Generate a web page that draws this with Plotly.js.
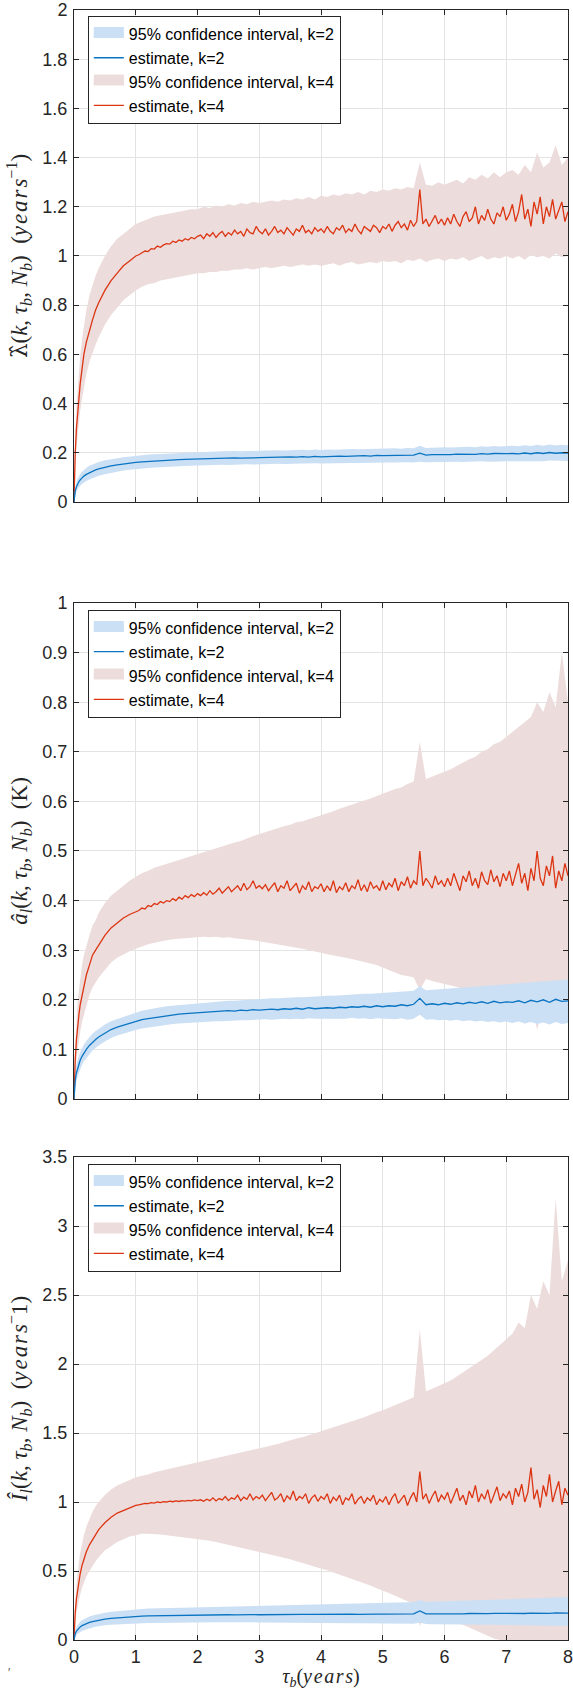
<!DOCTYPE html>
<html><head><meta charset="utf-8">
<script src="https://cdn.plot.ly/plotly-3.0.1.min.js"></script>
<style>html,body{margin:0;padding:0;background:#fff}#chart{width:573px;height:1690px}</style>
</head><body><div id="chart"></div>
<script>
// ---- sampling grid (years) ----
const tau = [0,0.01,0.02,0.04,0.06,0.08,0.1,0.13,0.16,0.2,0.25,0.3,0.35,0.4,0.5,0.6,0.7,0.8,0.9,1.0,
 1.1,1.2,1.3,1.4,1.5,1.6,1.7,1.8,1.9,2.0,
 2.1,2.2,2.3,2.4,2.5,2.6,2.7,2.8,2.9,3.0,
 3.1,3.2,3.3,3.4,3.5,3.6,3.7,3.8,3.9,4.0,
 4.1,4.2,4.3,4.4,4.5,4.6,4.7,4.8,4.9,5.0,
 5.1,5.2,5.3,5.4,5.5,5.6,5.7,5.8,5.9,6.0,
 6.1,6.2,6.3,6.4,6.5,6.6,6.7,6.8,6.9,7.0,
 7.1,7.2,7.3,7.4,7.5,7.6,7.7,7.8,7.9,8.0];
const tauFine = [0,0.01,0.02,0.04,0.06,0.08,0.1,0.13,0.16,0.2,0.25,0.3,0.35,0.4,0.5,0.6,0.7,0.8,0.9,1.0,
 1.05,1.1,1.15,1.2,1.25,1.3,1.35,1.4,1.45,1.5,1.55,1.6,1.65,1.7,1.75,1.8,1.85,1.9,1.95,2.0,
 2.05,2.1,2.15,2.2,2.25,2.3,2.35,2.4,2.45,2.5,2.55,2.6,2.65,2.7,2.75,2.8,2.85,2.9,2.95,3.0,
 3.05,3.1,3.15,3.2,3.25,3.3,3.35,3.4,3.45,3.5,3.55,3.6,3.65,3.7,3.75,3.8,3.85,3.9,3.95,4.0,
 4.05,4.1,4.15,4.2,4.25,4.3,4.35,4.4,4.45,4.5,4.55,4.6,4.65,4.7,4.75,4.8,4.85,4.9,4.95,5.0,
 5.05,5.1,5.15,5.2,5.25,5.3,5.35,5.4,5.45,5.5,5.55,5.6,5.65,5.7,5.75,5.8,5.85,5.9,5.95,6.0,
 6.05,6.1,6.15,6.2,6.25,6.3,6.35,6.4,6.45,6.5,6.55,6.6,6.65,6.7,6.75,6.8,6.85,6.9,6.95,7.0,
 7.05,7.1,7.15,7.2,7.25,7.3,7.35,7.4,7.45,7.5,7.55,7.6,7.65,7.7,7.75,7.8,7.85,7.9,7.95,8.0];

// ---- panel 1: lambda-hat ----
const lamEst2 = [0,0.03,0.045,0.062,0.074,0.083,0.09,0.098,0.105,0.112,0.119,0.125,0.13,0.134,0.141,0.147,0.151,0.155,0.158,0.161,
 0.163,0.165,0.167,0.168,0.17,0.171,0.172,0.173,0.174,0.175,
 0.176,0.176,0.177,0.178,0.177,0.179,0.178,0.18,0.179,0.18,
 0.181,0.18,0.182,0.181,0.183,0.182,0.184,0.182,0.185,0.183,
 0.185,0.184,0.186,0.185,0.187,0.186,0.188,0.186,0.189,0.188,
 0.189,0.19,0.188,0.191,0.19,0.198,0.19,0.192,0.191,0.193,
 0.192,0.194,0.193,0.195,0.193,0.196,0.194,0.197,0.195,0.196,
 0.197,0.195,0.199,0.196,0.2,0.197,0.201,0.198,0.2,0.199];
const lamLo2 = [0,0.015,0.028,0.042,0.052,0.06,0.066,0.073,0.079,0.085,0.091,0.097,0.102,0.106,0.113,0.119,0.124,0.128,0.131,0.134,
 0.136,0.138,0.14,0.141,0.143,0.144,0.145,0.146,0.147,0.148,
 0.149,0.149,0.15,0.151,0.15,0.152,0.151,0.153,0.152,0.153,
 0.154,0.153,0.155,0.154,0.155,0.155,0.156,0.155,0.157,0.156,
 0.157,0.156,0.158,0.157,0.158,0.158,0.159,0.158,0.16,0.159,
 0.16,0.16,0.159,0.161,0.16,0.163,0.161,0.162,0.161,0.163,
 0.162,0.163,0.162,0.164,0.163,0.165,0.163,0.165,0.164,0.165,
 0.165,0.164,0.166,0.165,0.167,0.165,0.168,0.166,0.167,0.166];
const lamHi2 = [0,0.045,0.062,0.082,0.096,0.106,0.114,0.123,0.131,0.139,0.147,0.153,0.158,0.162,0.169,0.175,0.178,0.182,0.185,0.188,
 0.19,0.193,0.195,0.196,0.198,0.199,0.2,0.201,0.202,0.203,
 0.204,0.204,0.205,0.206,0.205,0.207,0.206,0.208,0.207,0.208,
 0.209,0.208,0.21,0.209,0.211,0.21,0.212,0.21,0.213,0.211,
 0.213,0.212,0.214,0.213,0.215,0.214,0.216,0.214,0.217,0.216,
 0.217,0.218,0.216,0.219,0.218,0.228,0.219,0.221,0.22,0.222,
 0.221,0.223,0.222,0.224,0.222,0.226,0.224,0.227,0.225,0.226,
 0.228,0.226,0.23,0.227,0.232,0.228,0.233,0.229,0.232,0.23];
const lamEst4 = [0,0.12,0.2,0.3,0.37,0.43,0.48,0.54,0.6,0.65,0.7,0.74,0.78,0.81,0.86,0.9,0.93,0.96,0.98,1.0,
 1.005,1.012,1.02,1.018,1.03,1.028,1.04,1.035,1.045,1.05,1.048,1.06,1.055,1.065,1.06,1.07,1.065,1.075,1.07,1.08,
 1.085,1.07,1.09,1.08,1.095,1.075,1.09,1.1,1.08,1.095,1.085,1.105,1.09,1.1,1.08,1.11,1.095,1.09,1.12,1.1,
 1.09,1.11,1.085,1.1,1.12,1.095,1.105,1.09,1.115,1.1,1.085,1.11,1.1,1.125,1.095,1.105,1.09,1.115,1.1,1.11,
 1.095,1.12,1.1,1.09,1.115,1.105,1.125,1.095,1.11,1.1,1.13,1.105,1.09,1.12,1.11,1.1,1.125,1.115,1.095,1.12,
 1.11,1.13,1.1,1.125,1.14,1.115,1.13,1.105,1.145,1.12,1.14,1.27,1.13,1.15,1.12,1.14,1.165,1.13,1.15,1.125,
 1.155,1.13,1.17,1.14,1.12,1.16,1.18,1.14,1.155,1.2,1.13,1.165,1.145,1.19,1.15,1.13,1.175,1.16,1.2,1.145,
 1.17,1.21,1.14,1.18,1.25,1.15,1.19,1.12,1.22,1.17,1.24,1.13,1.2,1.16,1.23,1.15,1.19,1.22,1.14,1.18];
const lamLo4 = [0,0.08,0.14,0.22,0.28,0.33,0.37,0.42,0.47,0.52,0.57,0.61,0.64,0.67,0.72,0.76,0.79,0.82,0.84,0.86,
 0.875,0.885,0.89,0.9,0.905,0.91,0.915,0.92,0.925,0.93,
 0.93,0.935,0.935,0.94,0.94,0.945,0.945,0.95,0.945,0.95,
 0.955,0.95,0.955,0.96,0.955,0.96,0.965,0.96,0.965,0.96,
 0.965,0.97,0.96,0.97,0.975,0.965,0.97,0.975,0.97,0.98,
 0.975,0.98,0.97,0.985,0.98,0.99,0.975,0.985,0.99,0.98,
 0.99,0.985,0.995,0.98,0.99,1.0,0.985,0.995,0.99,1.0,
 0.99,1.0,0.985,1.005,0.995,1.0,0.99,1.01,0.995,1.0];
const lamHi4 = [0,0.17,0.27,0.39,0.47,0.53,0.59,0.66,0.72,0.78,0.84,0.88,0.92,0.95,1.0,1.04,1.07,1.09,1.11,1.13,
 1.14,1.15,1.16,1.165,1.17,1.175,1.18,1.185,1.19,1.19,
 1.2,1.195,1.205,1.2,1.21,1.205,1.215,1.21,1.22,1.215,
 1.22,1.225,1.22,1.23,1.225,1.235,1.23,1.24,1.23,1.245,
 1.24,1.25,1.245,1.255,1.25,1.26,1.25,1.265,1.26,1.27,
 1.265,1.275,1.27,1.28,1.275,1.38,1.29,1.285,1.3,1.29,
 1.3,1.31,1.295,1.32,1.31,1.33,1.315,1.34,1.32,1.34,
 1.35,1.33,1.37,1.34,1.42,1.36,1.38,1.45,1.37,1.4];

// ---- panel 2: a_l-hat ----
const alEst2 = [0,0.025,0.038,0.053,0.063,0.071,0.078,0.086,0.093,0.1,0.108,0.115,0.12,0.125,0.133,0.14,0.145,0.149,0.153,0.157,
 0.16,0.162,0.164,0.166,0.168,0.169,0.171,0.172,0.173,0.174,
 0.175,0.176,0.176,0.177,0.178,0.177,0.179,0.178,0.18,0.179,
 0.18,0.181,0.18,0.182,0.181,0.183,0.181,0.184,0.182,0.183,
 0.184,0.183,0.185,0.184,0.186,0.185,0.187,0.185,0.188,0.186,
 0.188,0.187,0.19,0.188,0.191,0.203,0.19,0.192,0.19,0.193,
 0.191,0.194,0.192,0.195,0.193,0.196,0.193,0.197,0.194,0.196,
 0.195,0.198,0.194,0.199,0.196,0.2,0.195,0.201,0.197,0.198];
const alLo2 = [0,0.012,0.022,0.036,0.046,0.054,0.061,0.069,0.076,0.083,0.091,0.098,0.103,0.108,0.116,0.123,0.128,0.132,0.136,0.139,
 0.142,0.144,0.146,0.148,0.15,0.151,0.152,0.153,0.154,0.155,
 0.156,0.156,0.157,0.157,0.158,0.158,0.159,0.159,0.16,0.16,
 0.161,0.16,0.161,0.162,0.161,0.162,0.161,0.163,0.162,0.162,
 0.163,0.162,0.163,0.162,0.164,0.162,0.163,0.161,0.163,0.162,
 0.162,0.161,0.163,0.16,0.162,0.17,0.16,0.161,0.159,0.16,
 0.158,0.16,0.157,0.159,0.156,0.158,0.155,0.157,0.154,0.156,
 0.153,0.156,0.152,0.155,0.151,0.154,0.15,0.155,0.151,0.153];
const alHi2 = [0,0.038,0.054,0.07,0.08,0.088,0.095,0.103,0.11,0.117,0.125,0.132,0.137,0.142,0.15,0.157,0.162,0.166,0.17,0.174,
 0.178,0.181,0.183,0.185,0.187,0.188,0.19,0.191,0.192,0.193,
 0.194,0.195,0.196,0.197,0.198,0.198,0.199,0.2,0.201,0.201,
 0.202,0.203,0.203,0.204,0.204,0.205,0.205,0.206,0.206,0.207,
 0.208,0.208,0.209,0.21,0.211,0.211,0.212,0.212,0.213,0.214,
 0.215,0.215,0.216,0.217,0.218,0.228,0.219,0.22,0.221,0.222,
 0.223,0.224,0.225,0.226,0.227,0.228,0.229,0.23,0.231,0.232,
 0.233,0.234,0.235,0.236,0.237,0.238,0.239,0.24,0.24,0.241];
const alEst4 = [0,0.05,0.08,0.12,0.15,0.17,0.19,0.21,0.23,0.25,0.27,0.29,0.3,0.31,0.33,0.345,0.355,0.365,0.372,0.378,
 0.38,0.385,0.383,0.39,0.388,0.394,0.392,0.398,0.395,0.4,0.398,0.404,0.4,0.407,0.403,0.41,0.406,0.412,0.408,0.414,
 0.41,0.416,0.411,0.42,0.413,0.418,0.425,0.415,0.422,0.428,0.418,0.424,0.43,0.42,0.435,0.422,0.428,0.44,0.425,0.43,
 0.424,0.432,0.42,0.428,0.436,0.418,0.43,0.425,0.44,0.42,0.428,0.435,0.415,0.43,0.422,0.438,0.418,0.428,0.424,0.434,
 0.418,0.43,0.42,0.44,0.416,0.428,0.422,0.436,0.418,0.43,0.424,0.442,0.42,0.432,0.418,0.438,0.425,0.43,0.42,0.44,
 0.422,0.435,0.428,0.445,0.42,0.438,0.43,0.448,0.425,0.44,0.432,0.5,0.43,0.445,0.436,0.425,0.45,0.432,0.44,0.428,
 0.445,0.43,0.455,0.435,0.42,0.45,0.438,0.46,0.43,0.445,0.425,0.458,0.44,0.432,0.462,0.438,0.45,0.428,0.455,0.44,
 0.46,0.43,0.45,0.475,0.435,0.455,0.42,0.465,0.44,0.5,0.445,0.43,0.47,0.45,0.49,0.425,0.46,0.44,0.475,0.45];
const alLo4 = [0,0.03,0.05,0.08,0.1,0.12,0.135,0.155,0.17,0.19,0.21,0.225,0.235,0.245,0.26,0.275,0.285,0.292,0.298,0.303,
 0.308,0.312,0.315,0.318,0.32,0.322,0.323,0.325,0.326,0.327,
 0.327,0.326,0.327,0.325,0.326,0.324,0.323,0.322,0.32,0.318,
 0.316,0.314,0.312,0.31,0.308,0.305,0.303,0.3,0.298,0.295,
 0.292,0.29,0.287,0.285,0.282,0.279,0.276,0.273,0.27,0.265,
 0.26,0.255,0.25,0.248,0.245,0.22,0.242,0.238,0.235,0.232,
 0.23,0.226,0.222,0.218,0.22,0.212,0.215,0.208,0.21,0.205,
 0.2,0.19,0.15,0.195,0.14,0.185,0.16,0.18,0.15,0.19];
const alHi4 = [0,0.07,0.11,0.16,0.2,0.22,0.245,0.27,0.29,0.31,0.33,0.35,0.36,0.375,0.395,0.41,0.42,0.43,0.44,0.448,
 0.455,0.46,0.466,0.47,0.474,0.478,0.482,0.486,0.49,0.494,
 0.498,0.502,0.505,0.51,0.513,0.517,0.52,0.525,0.53,0.535,
 0.538,0.542,0.546,0.55,0.553,0.558,0.56,0.565,0.568,0.572,
 0.576,0.58,0.585,0.59,0.594,0.598,0.602,0.606,0.61,0.615,
 0.62,0.625,0.628,0.635,0.64,0.72,0.645,0.65,0.655,0.66,
 0.665,0.672,0.678,0.685,0.69,0.7,0.705,0.715,0.72,0.73,
 0.74,0.75,0.76,0.77,0.8,0.78,0.82,0.79,0.9,0.8];

// ---- panel 3: I_l-hat ----
const ilEst2 = [0,0.03,0.045,0.065,0.077,0.087,0.095,0.104,0.111,0.119,0.127,0.134,0.139,0.144,0.151,0.157,0.161,0.165,0.168,0.171,
 0.173,0.175,0.176,0.177,0.178,0.179,0.18,0.18,0.181,0.181,
 0.182,0.181,0.183,0.182,0.183,0.182,0.184,0.183,0.184,0.183,
 0.184,0.183,0.185,0.184,0.185,0.184,0.186,0.185,0.186,0.185,
 0.186,0.185,0.187,0.186,0.187,0.186,0.188,0.186,0.188,0.187,
 0.188,0.187,0.189,0.188,0.19,0.21,0.189,0.19,0.189,0.191,
 0.19,0.191,0.19,0.192,0.19,0.193,0.191,0.193,0.192,0.193,
 0.192,0.194,0.192,0.195,0.193,0.196,0.193,0.196,0.194,0.195];
const ilLo2 = [0,0.012,0.022,0.036,0.045,0.052,0.058,0.065,0.071,0.078,0.085,0.091,0.096,0.1,0.106,0.11,0.113,0.116,0.118,0.12,
 0.122,0.123,0.124,0.125,0.126,0.127,0.127,0.128,0.128,0.129,
 0.129,0.128,0.129,0.128,0.129,0.128,0.129,0.128,0.128,0.127,
 0.127,0.126,0.127,0.126,0.126,0.125,0.126,0.124,0.125,0.124,
 0.124,0.123,0.123,0.122,0.122,0.121,0.121,0.12,0.12,0.119,
 0.119,0.118,0.118,0.117,0.117,0.125,0.116,0.115,0.115,0.114,
 0.114,0.113,0.113,0.112,0.111,0.111,0.11,0.11,0.109,0.108,
 0.108,0.107,0.107,0.106,0.105,0.105,0.104,0.104,0.103,0.102];
const ilHi2 = [0,0.05,0.07,0.095,0.11,0.122,0.132,0.143,0.152,0.161,0.17,0.178,0.184,0.19,0.198,0.205,0.21,0.214,0.218,0.222,
 0.225,0.228,0.23,0.232,0.234,0.236,0.237,0.238,0.239,0.24,
 0.241,0.242,0.243,0.244,0.245,0.246,0.247,0.248,0.249,0.25,
 0.251,0.252,0.253,0.254,0.255,0.256,0.257,0.258,0.259,0.26,
 0.261,0.262,0.263,0.264,0.265,0.266,0.267,0.268,0.269,0.27,
 0.271,0.272,0.273,0.274,0.275,0.29,0.277,0.278,0.279,0.28,
 0.282,0.283,0.285,0.286,0.288,0.289,0.291,0.292,0.294,0.295,
 0.297,0.298,0.3,0.302,0.303,0.305,0.306,0.308,0.31,0.311];
const ilEst4 = [0,0.12,0.2,0.3,0.37,0.43,0.48,0.54,0.59,0.64,0.69,0.73,0.77,0.8,0.85,0.89,0.92,0.94,0.96,0.975,
 0.98,0.985,0.99,0.988,0.995,0.992,1.0,0.996,1.003,1.0,1.006,1.002,1.008,1.004,1.01,1.006,1.012,1.008,1.015,1.01,
 1.016,1.005,1.02,1.01,1.03,1.008,1.025,1.015,1.04,1.01,1.03,1.02,1.05,1.01,1.035,1.02,1.06,1.015,1.04,1.025,
 1.05,1.01,1.04,1.07,1.015,1.03,1.06,1.0,1.045,1.02,1.08,1.01,1.04,1.025,1.06,0.99,1.03,1.05,1.005,1.04,
 1.02,1.06,0.99,1.035,1.01,1.05,0.98,1.03,1.015,1.06,0.985,1.02,1.04,0.99,1.03,1.01,1.05,0.98,1.02,1.0,
 1.04,0.98,1.03,1.06,0.99,1.02,1.05,0.975,1.03,1.07,1.0,1.22,1.02,1.06,0.99,1.04,1.08,1.0,1.05,1.02,
 1.07,0.99,1.04,1.1,1.01,1.05,0.98,1.08,1.03,1.12,1.0,1.06,1.02,1.09,0.99,1.05,1.11,1.01,1.06,1.03,
 1.08,0.98,1.1,1.04,1.13,1.0,1.07,1.25,1.02,1.09,0.96,1.12,1.04,1.2,1.0,1.08,1.15,0.98,1.1,1.05];
const ilLo4 = [0,0.08,0.13,0.2,0.25,0.29,0.33,0.38,0.42,0.46,0.5,0.54,0.57,0.6,0.65,0.68,0.71,0.73,0.75,0.76,
 0.77,0.77,0.77,0.765,0.76,0.755,0.75,0.745,0.74,0.735,
 0.73,0.72,0.71,0.7,0.69,0.68,0.67,0.66,0.65,0.64,
 0.63,0.62,0.61,0.6,0.585,0.57,0.56,0.545,0.53,0.52,
 0.505,0.49,0.475,0.46,0.445,0.43,0.41,0.395,0.375,0.36,
 0.34,0.32,0.3,0.28,0.26,0.1,0.23,0.21,0.19,0.17,
 0.15,0.13,0.11,0.09,0.07,0.05,0.03,0.01,0,0,
 0,0,0,0,0,0,0,0,0,0];
const ilHi4 = [0,0.17,0.27,0.4,0.49,0.57,0.63,0.7,0.76,0.82,0.88,0.93,0.97,1.0,1.05,1.09,1.12,1.14,1.16,1.18,
 1.19,1.2,1.215,1.225,1.235,1.245,1.255,1.265,1.275,1.285,
 1.295,1.305,1.315,1.325,1.335,1.345,1.355,1.365,1.375,1.39,
 1.4,1.41,1.42,1.435,1.445,1.46,1.47,1.485,1.5,1.51,
 1.525,1.54,1.555,1.57,1.585,1.6,1.615,1.63,1.65,1.665,
 1.68,1.7,1.72,1.74,1.76,2.25,1.8,1.82,1.84,1.86,
 1.88,1.91,1.94,1.97,2.0,2.03,2.06,2.1,2.14,2.18,
 2.22,2.3,2.26,2.5,2.4,2.6,2.5,3.2,2.6,2.75];

// ---- ticks and labels ----
const xTicks = [0,1,2,3,4,5,6,7,8];
const xTickText = ['0','1','2','3','4','5','6','7','8'];
const lamTicks = [0,0.2,0.4,0.6,0.8,1,1.2,1.4,1.6,1.8,2];
const lamTickText = ['0','0.2','0.4','0.6','0.8','1','1.2','1.4','1.6','1.8','2'];
const alTicks = [0,0.1,0.2,0.3,0.4,0.5,0.6,0.7,0.8,0.9,1];
const alTickText = ['0','0.1','0.2','0.3','0.4','0.5','0.6','0.7','0.8','0.9','1'];
const ilTicks = [0,0.5,1,1.5,2,2.5,3,3.5];
const ilTickText = ['0','0.5','1','1.5','2','2.5','3','3.5'];
const seriesNames = ['95% confidence interval, k=2','estimate, k=2','95% confidence interval, k=4','estimate, k=4'];

const BLUE = '#0a74c2', RED = '#dc3512', BLUEFILL = '#cce0f5', REDFILL = '#eddcdc';

function band(x, lo, hi, fillcolor, ax) {
  return {type:'scatter', mode:'lines', x: x.concat(x.slice().reverse()), y: lo.concat(hi.slice().reverse()),
    fill:'toself', fillcolor: fillcolor, line:{width:0, color:fillcolor}, showlegend:false,
    xaxis:'x'+ax, yaxis:'y'+ax, hoverinfo:'skip'};
}
// legend swatch for a band (no data of its own, only the key entry)
function bandKey(fillcolor, name, ax, leg, rank) {
  return {type:'scatter', mode:'lines', x:[null], y:[null], fill:'toself', fillcolor: fillcolor,
    line:{width:16, color:fillcolor}, name: name, xaxis:'x'+ax, yaxis:'y'+ax, legend: leg, legendrank: rank, hoverinfo:'skip'};
}
function line(x, y, color, name, ax, leg, rank) {
  return {type:'scatter', mode:'lines', x: x, y: y, line:{width:1.3, color:color}, name: name,
    xaxis:'x'+ax, yaxis:'y'+ax, legend: leg, legendrank: rank};
}
function panel(ax, leg, lo2, hi2, est2, lo4, hi4, est4) {
  return [
    band(tau, lo4, hi4, REDFILL, ax),
    band(tau, lo2, hi2, BLUEFILL, ax),
    line(tauFine, est4, RED, seriesNames[3], ax, leg, 4),
    line(tau, est2, BLUE, seriesNames[1], ax, leg, 2),
    bandKey(BLUEFILL, seriesNames[0], ax, leg, 1),
    bandKey(REDFILL, seriesNames[2], ax, leg, 3)
  ];
}
const data = [].concat(
  panel('', 'legend', lamLo2, lamHi2, lamEst2, lamLo4, lamHi4, lamEst4),
  panel('2', 'legend2', alLo2, alHi2, alEst2, alLo4, alHi4, alEst4),
  panel('3', 'legend3', ilLo2, ilHi2, ilEst2, ilLo4, ilHi4, ilEst4)
);

const AX = '#262626', GRID = '#e3e3e3';
const tickFont = {family:'Liberation Sans, Arial, sans-serif', size:18, color:AX};
const titleFont = {family:'Liberation Serif, DejaVu Serif, serif', size:23, color:AX};
function xax(anchor, labels) {
  return {anchor: anchor, domain:[0,1], range:[0,8], tickvals:xTicks, ticktext:xTickText, showticklabels: labels,
    ticks:'inside', ticklen:5, tickcolor:AX, showline:true, linecolor:AX, linewidth:1, mirror:'ticks',
    showgrid:true, gridcolor:GRID, gridwidth:1, zeroline:false, tickfont:tickFont, automargin:false,
    ticklabelstandoff:0, ticklabeloverflow:'allow'};
}
function yax(anchor, domain, range, tv, tt, title) {
  return {anchor: anchor, domain: domain, range: range, tickvals: tv, ticktext: tt,
    ticks:'inside', ticklen:5, tickcolor:AX, showline:true, linecolor:AX, linewidth:1, mirror:'ticks',
    showgrid:true, gridcolor:GRID, gridwidth:1, zeroline:false, tickfont:tickFont, automargin:false,
    ticklabelstandoff:2, ticklabeloverflow:'allow', title:{text:title, font:titleFont, standoff:8}};
}
function legendBox(y) {
  return {x:0.028, y:y, xanchor:'left', yanchor:'top', bgcolor:'#ffffff', bordercolor:AX, borderwidth:1,
    font:{family:'Liberation Sans, Arial, sans-serif', size:16, color:'#000000'}, traceorder:'normal', tracegroupgap:0};
}
const S = '\u00A0', T = '\u200A';
const YRS = '<i>y'+T+'e'+T+'a'+T+'r'+T+'s</i>';

const layout = {
  width:573, height:1690, margin:{l:74, r:5, t:10, b:50},
  paper_bgcolor:'#ffffff', plot_bgcolor:'#ffffff', showlegend:true,
  font:{family:'Liberation Sans, Arial, sans-serif', color:AX},
  xaxis: xax('y', false),
  yaxis: yax('x', [0.6982,1], [0,2], lamTicks, lamTickText,
    '<span style="font-family:DejaVu Serif">λ̂</span>(<i>k</i>,'+S+'<i>τ<sub>b</sub></i>,'+S+'<i>N<sub>b</sub></i>)'+S+S+'('+YRS+'<sup>−1</sup>)'),
  xaxis2: xax('y2', false),
  yaxis2: yax('x2', [0.3319,0.6362], [0,1], alTicks, alTickText,
    '<i>â<sub>l</sub></i>(<i>k</i>,'+S+'<i>τ<sub>b</sub></i>,'+S+'<i>N<sub>b</sub></i>)'+S+S+'(K)'),
  xaxis3: Object.assign(xax('y3', true), {title:{text:'<i>τ<sub>b</sub></i>('+YRS+')', font:{family:'Liberation Serif, DejaVu Serif, serif', size:20, color:AX}, standoff:4}}),
  yaxis3: yax('x3', [0,0.2963], [0,3.5], ilTicks, ilTickText,
    '<i>Î<sub>l</sub></i>(<i>k</i>,'+S+'<i>τ<sub>b</sub></i>,'+S+'<i>N<sub>b</sub></i>)'+S+S+'('+YRS+'<sup>−</sup>1)'),
  legend: legendBox(0.9963),
  legend2: legendBox(0.6319),
  legend3: legendBox(0.292),
  annotations:[{text:'′', xref:'paper', yref:'paper', x:-0.137, y:-0.026, showarrow:false, font:{size:12, color:'#555555'}}]
};

Plotly.newPlot('chart', data, layout, {staticPlot:true, displayModeBar:false});
</script>
</body></html>
